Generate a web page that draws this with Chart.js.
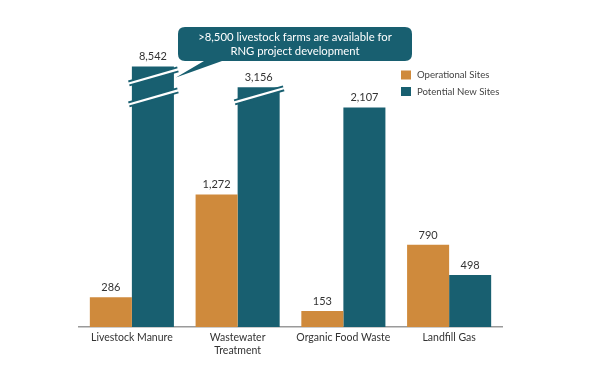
<!DOCTYPE html>
<html><head><meta charset="utf-8">
<script src="https://cdn.jsdelivr.net/npm/chart.js@4"></script>
<style>html,body{margin:0;padding:0;background:#fff}#wrap{width:614px;height:378px}</style>
</head><body><div id="wrap"><canvas id="c" width="614" height="378"></canvas></div>
<script>
const categories = ['Livestock Manure', ['Wastewater', 'Treatment'], 'Organic Food Waste', 'Landfill Gas'];
const operationalSites = [286, 1272, 153, 790];
const potentialNewSites = [8542, 3156, 2107, 498];
// heights drawn on the broken axis (bars above the break are shortened)
const potentialShownHeight = [2500, 2300, 2107, 498];
const brokenBars = [true, true, false, false];
const seriesNames = ['Operational Sites', 'Potential New Sites'];
const calloutLines = ['>8,500 livestock farms are available for', 'RNG project development'];

const ORANGE = '#CF8A3C', TEAL = '#185F70', TEXT = '#333';
const FONT = 'Lato, "Open Sans", sans-serif';
const fmt = v => v.toLocaleString('en-US');

const overlay = {
  id: 'overlay',
  afterDatasetsDraw(chart) {
    const ctx = chart.ctx;
    const m0 = chart.getDatasetMeta(0), m1 = chart.getDatasetMeta(1);
    // break marks
    m1.data.forEach((bar, i) => {
      if (!brokenBars[i]) return;
      const x0 = bar.x - bar.width / 2, x1 = bar.x + bar.width / 2;
      const offs = i === 0 ? [10, 31] : [8];
      offs.forEach(o => {
        const c = bar.y + o;
        ctx.save();
        ctx.lineCap = 'butt';
        ctx.strokeStyle = TEAL; ctx.lineWidth = 6;
        ctx.beginPath(); ctx.moveTo(x0 - 3, c + 7); ctx.lineTo(x1 + 4, c - 7); ctx.stroke();
        ctx.strokeStyle = '#fff'; ctx.lineWidth = 2.2;
        ctx.beginPath(); ctx.moveTo(x0 - 4, c + 7.3); ctx.lineTo(x1 + 5, c - 7.3); ctx.stroke();
        ctx.restore();
      });
    });
    // value labels
    ctx.save();
    ctx.font = '11px ' + FONT; ctx.fillStyle = TEXT; ctx.textAlign = 'center'; ctx.textBaseline = 'bottom';
    m0.data.forEach((b, i) => ctx.fillText(fmt(operationalSites[i]), b.x, b.y - 4));
    m1.data.forEach((b, i) => ctx.fillText(fmt(potentialNewSites[i]), b.x, b.y - 4));
    ctx.restore();
    // callout
    const tb = m1.data[0];
    const tipX = tb.x + tb.width / 2 + 2, tipY = tb.y + 11;
    const rx = 178, ry = 27, rw = 234, rh = 34, r = 7;
    ctx.save();
    ctx.fillStyle = TEAL;
    ctx.beginPath();
    ctx.moveTo(rx + r, ry); ctx.lineTo(rx + rw - r, ry); ctx.quadraticCurveTo(rx + rw, ry, rx + rw, ry + r);
    ctx.lineTo(rx + rw, ry + rh - r); ctx.quadraticCurveTo(rx + rw, ry + rh, rx + rw - r, ry + rh);
    ctx.lineTo(222, ry + rh); ctx.lineTo(tipX, tipY); ctx.lineTo(204, ry + rh);
    ctx.lineTo(rx + r, ry + rh); ctx.quadraticCurveTo(rx, ry + rh, rx, ry + rh - r);
    ctx.lineTo(rx, ry + r); ctx.quadraticCurveTo(rx, ry, rx + r, ry);
    ctx.closePath(); ctx.fill();
    ctx.fillStyle = '#fff'; ctx.font = '11.3px ' + FONT; ctx.textAlign = 'center'; ctx.textBaseline = 'middle';
    ctx.fillText(calloutLines[0], rx + rw / 2, 37.5);
    ctx.fillText(calloutLines[1], rx + rw / 2, 51);
    ctx.restore();
    // legend
    ctx.save();
    ctx.font = '9.6px ' + FONT; ctx.textBaseline = 'middle'; ctx.textAlign = 'left';
    [[ORANGE, 75], [TEAL, 91.5]].forEach(([col, y], k) => {
      ctx.fillStyle = col; ctx.fillRect(401, y - 4.5, 10, 9);
      ctx.fillStyle = '#444'; ctx.fillText(seriesNames[k], 417, y);
    });
    ctx.restore();
  }
};

new Chart(document.getElementById('c'), {
  type: 'bar',
  data: {
    labels: categories,
    datasets: [
      { label: seriesNames[0], data: operationalSites, backgroundColor: ORANGE },
      { label: seriesNames[1], data: potentialShownHeight, backgroundColor: TEAL }
    ]
  },
  options: {
    responsive: false, animation: false,
    layout: { padding: { left: 79, right: 112, top: 56, bottom: 0 } },
    plugins: { legend: { display: false }, tooltip: { enabled: false } },
    datasets: { bar: { barPercentage: 1, categoryPercentage: 0.795 } },
    scales: {
      x: {
        grid: { display: false, drawTicks: false },
        border: { display: true, color: '#9a9a9a', width: 1.5 },
        ticks: { color: TEXT, font: { family: FONT, size: 10.5, lineHeight: 1.25 }, padding: 4, maxRotation: 0, autoSkip: false },
        afterFit: s => { s.height = 51; }
      },
      y: {
        display: false, min: 0, max: 2600,
        afterFit: s => { s.width = 0; }
      }
    }
  },
  plugins: [overlay]
});
</script></body></html>
